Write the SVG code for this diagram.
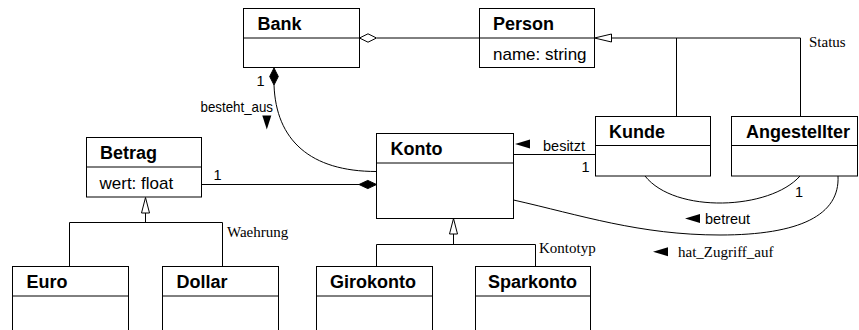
<svg xmlns="http://www.w3.org/2000/svg" width="859" height="330" viewBox="0 0 859 330">
  <defs>
    <style>
      .box { fill: #ffffff; stroke: #000000; stroke-width: 1; }
      .line { fill: none; stroke: #000000; stroke-width: 1; }
      .title { font-family: "Liberation Sans", Arial, sans-serif; font-weight: bold; font-size: 18px; fill: #000000; }
      .attr { font-family: "Liberation Sans", Arial, sans-serif; font-size: 17px; fill: #000000; }
      .lbl { font-family: "Liberation Sans", Arial, sans-serif; font-size: 14.5px; fill: #000000; }
      .serif { font-family: "Liberation Serif", "Times New Roman", serif; font-size: 15px; fill: #000000; }
      .hollow { fill: #ffffff; stroke: #000000; stroke-width: 1; }
      .solid { fill: #000000; stroke: #000000; stroke-width: 1; }
      .dir { fill: #000000; stroke: none; }
    </style>
  </defs>

  <!-- connectors -->
  <g id="connectors">
    <!-- Bank <>— Person (aggregation) -->
    <line class="line" x1="377" y1="38" x2="479.5" y2="38"/>
    <polygon class="hollow" points="359.5,38 368,33.8 376.5,38 368,42.2"/>

    <!-- Person generalisation: Kunde, Angestellter -->
    <polyline class="line" points="611.5,38 800.5,38 800.5,116.5"/>
    <line class="line" x1="676.5" y1="38" x2="676.5" y2="116.5"/>
    <polygon class="hollow" points="594.5,38 611.5,34 611.5,42"/>

    <!-- Bank composition: besteht_aus -->
    <path class="line" d="M274,85 C276,140 310,171.5 376.5,171.5"/>
    <polygon class="solid" points="274,68 278.3,76.5 274,85 269.7,76.5"/>

    <!-- Konto composition: Betrag -->
    <line class="line" x1="201.5" y1="184.5" x2="359" y2="184.5"/>
    <polygon class="solid" points="376.5,184.5 367.8,188.6 359,184.5 367.8,180.4"/>

    <!-- Konto — Kunde: besitzt -->
    <line class="line" x1="513.5" y1="154.5" x2="595.5" y2="154.5"/>

    <!-- Kunde — Angestellter: betreut -->
    <path class="line" d="M645,176 C675,214 770,210 800,176"/>

    <!-- Konto — Angestellter: hat_Zugriff_auf -->
    <path class="line" d="M513.5,200 C580,215 640,235 720,235 C800,235 840,215 838,176"/>

    <!-- Betrag generalisation: Euro, Dollar -->
    <line class="line" x1="145.5" y1="213" x2="145.5" y2="222.5"/>
    <polyline class="line" points="69.5,266.5 69.5,222.5 222.5,222.5 222.5,266.5"/>
    <polygon class="hollow" points="145.5,197.5 141.5,213 149.5,213"/>

    <!-- Konto generalisation: Girokonto, Sparkonto -->
    <line class="line" x1="453.5" y1="234" x2="453.5" y2="244.5"/>
    <polyline class="line" points="376.5,266.5 376.5,244.5 535.5,244.5 535.5,266.5"/>
    <polygon class="hollow" points="453.5,218.5 449.5,234 457.5,234"/>

    <!-- multiplicities -->
    <text class="lbl" x="256.5" y="86">1</text>
    <text class="lbl" x="213.5" y="180">1</text>
    <text class="lbl" x="581.5" y="172">1</text>
    <text class="lbl" x="795" y="196.5">1</text>

    <!-- association names with reading direction -->
    <text class="lbl" x="200.5" y="112" textLength="72.5" lengthAdjust="spacingAndGlyphs">besteht_aus</text>
    <polygon class="dir" points="262.3,115.5 271.3,115.5 266.8,129.5"/>

    <polygon class="dir" points="515,144 530,139.5 530,148.5"/>
    <text class="lbl" x="543" y="150.5">besitzt</text>

    <polygon class="dir" points="685,218.5 700,214 700,223"/>
    <text class="lbl" x="705" y="223.5">betreut</text>

    <polygon class="dir" points="653,251.7 668,247.2 668,256.2"/>
    <text class="serif" x="678" y="256.7">hat_Zugriff_auf</text>

    <!-- generalisation set names -->
    <text class="serif" x="809" y="47">Status</text>
    <text class="serif" x="227" y="236.7">Waehrung</text>
    <text class="serif" x="539" y="253.3">Kontotyp</text>
  </g>

  <!-- classes -->
  <g id="bank">
    <rect class="box" x="243.5" y="8.5" width="116" height="59"/>
    <line class="line" x1="243.5" y1="38" x2="359.5" y2="38"/>
    <text class="title" x="257.5" y="30">Bank</text>
  </g>

  <g id="person">
    <rect class="box" x="479.5" y="8.5" width="115" height="59"/>
    <line class="line" x1="479.5" y1="38" x2="594.5" y2="38"/>
    <text class="title" x="493" y="30">Person</text>
    <text class="attr" x="493" y="59.5">name: string</text>
  </g>

  <g id="kunde">
    <rect class="box" x="595.5" y="116.5" width="115" height="59.5"/>
    <line class="line" x1="595.5" y1="145.5" x2="710.5" y2="145.5"/>
    <text class="title" x="609" y="137.5">Kunde</text>
  </g>

  <g id="angestellter">
    <rect class="box" x="731.5" y="116.5" width="126" height="59.5"/>
    <line class="line" x1="731.5" y1="145.5" x2="857.5" y2="145.5"/>
    <text class="title" x="746" y="137.5">Angestellter</text>
  </g>

  <g id="konto">
    <rect class="box" x="376.5" y="133.5" width="137" height="85"/>
    <line class="line" x1="376.5" y1="163" x2="513.5" y2="163"/>
    <text class="title" x="390.5" y="154.5">Konto</text>
  </g>

  <g id="betrag">
    <rect class="box" x="86.5" y="137.5" width="115" height="59.5"/>
    <line class="line" x1="86.5" y1="167" x2="201.5" y2="167"/>
    <text class="title" x="100" y="159">Betrag</text>
    <text class="attr" x="99.5" y="188.5">wert: float</text>
  </g>

  <g id="euro">
    <rect class="box" x="12.5" y="266.5" width="116" height="80"/>
    <line class="line" x1="12.5" y1="296" x2="128.5" y2="296"/>
    <text class="title" x="26.5" y="288">Euro</text>
  </g>

  <g id="dollar">
    <rect class="box" x="162.5" y="266.5" width="116" height="80"/>
    <line class="line" x1="162.5" y1="296" x2="278.5" y2="296"/>
    <text class="title" x="176.5" y="288">Dollar</text>
  </g>

  <g id="girokonto">
    <rect class="box" x="316.5" y="266.5" width="116" height="80"/>
    <line class="line" x1="316.5" y1="296" x2="432.5" y2="296"/>
    <text class="title" x="330" y="288">Girokonto</text>
  </g>

  <g id="sparkonto">
    <rect class="box" x="475.5" y="266.5" width="115" height="80"/>
    <line class="line" x1="475.5" y1="296" x2="590.5" y2="296"/>
    <text class="title" x="488" y="288">Sparkonto</text>
  </g>
</svg>
